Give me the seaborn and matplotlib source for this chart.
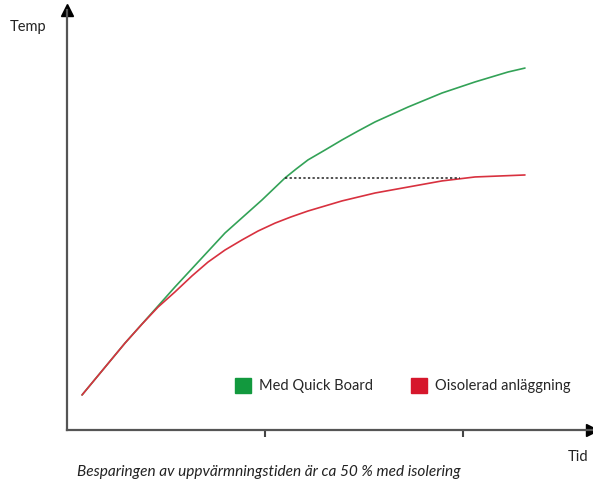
#import packages
import pandas as pd
import matplotlib.pyplot as plt
import seaborn as sns
from matplotlib.patches import Patch

#read values off the picture (x = time, y = temperature, arbitrary units)
green_x = [0.076, 0.293, 0.545, 0.798, 0.985, 1.101, 1.157, 1.217, 1.303, 1.389, 1.470, 1.556,
           1.722, 1.894, 2.061, 2.227, 2.313]
green_y = [0.177, 0.439, 0.722, 0.995, 1.162, 1.273, 1.318, 1.364, 1.414, 1.465, 1.510, 1.556,
           1.631, 1.702, 1.758, 1.808, 1.828]
red_x = [0.076, 0.293, 0.379, 0.460, 0.545, 0.631, 0.712, 0.798, 0.884, 0.965, 1.051, 1.131,
         1.217, 1.389, 1.556, 1.722, 1.894, 2.061, 2.313]
red_y = [0.177, 0.439, 0.535, 0.621, 0.697, 0.778, 0.848, 0.909, 0.960, 1.005, 1.045, 1.076,
         1.106, 1.157, 1.197, 1.227, 1.258, 1.278, 1.288]
dash_x = [1.101, 1.985]
dash_y = [1.273, 1.273]
labels = ["Med Quick Board", "Oisolerad anläggning"]
tick_pos = [1, 2]

df = pd.concat([
    pd.DataFrame({"tid": green_x, "temp": green_y, "serie": labels[0]}),
    pd.DataFrame({"tid": red_x, "temp": red_y, "serie": labels[1]}),
])
palette = {labels[0]: "#33a257", labels[1]: "#d8313f"}

sns.set_style("white")
plt.rcParams['font.family'] = ['Lato', 'DejaVu Sans']

fig = plt.figure(figsize=(5.93, 4.84), dpi=100)
ax = fig.add_axes([67/593, 54/484, (592-67)/593, (430-10)/484])

sns.lineplot(data=df, x="tid", y="temp", hue="serie", palette=palette,
             linewidth=1.2, legend=False, sort=False, ax=ax)
ax.plot(dash_x, dash_y, color="#222222", linestyle=(0, (1.5, 1.5)), linewidth=1.1)

ax.set_xlim(0, (592-67)/198)
ax.set_ylim(0, (430-10)/198)
ax.set(xlabel="", ylabel="")
ax.set_xticks(tick_pos)
ax.set_xticklabels([])
ax.set_yticks([])
ax.tick_params(axis="x", direction="out", length=5, width=1.5, color="#444444", bottom=True)
for s in ["top", "right"]:
    ax.spines[s].set_visible(False)
for s in ["left", "bottom"]:
    ax.spines[s].set_color("#555555")
    ax.spines[s].set_linewidth(1.6)

#arrow heads
ax.plot([0], [1], marker="^", color="black", markersize=9, transform=ax.transAxes, clip_on=False)
ax.plot([1], [0], marker=">", color="black", markersize=9, transform=ax.transAxes, clip_on=False)

#legend with squares
handles = [Patch(color="#12993e", label=labels[0]), Patch(color="#d6172c", label=labels[1])]
ax.legend(handles=handles, ncol=2, frameon=False, loc="center", bbox_to_anchor=(0.639, 0.105),
          handlelength=1.15, handleheight=1.15, handletextpad=0.5, columnspacing=2.6, fontsize=10.5)

fig.text(10/593, 1 - 27/484, "Temp", fontsize=10.5, va="center", ha="left", color="#222222")
fig.text(568/593, 1 - 457/484, "Tid", fontsize=10.5, va="center", ha="left", color="#222222")
fig.text(77/593, 1 - 472/484, "Besparingen av uppvärmningstiden är ca 50 % med isolering",
         fontsize=11.1, style="italic", va="center", ha="left", color="#222222")

plt.savefig("out.png", dpi=100)
